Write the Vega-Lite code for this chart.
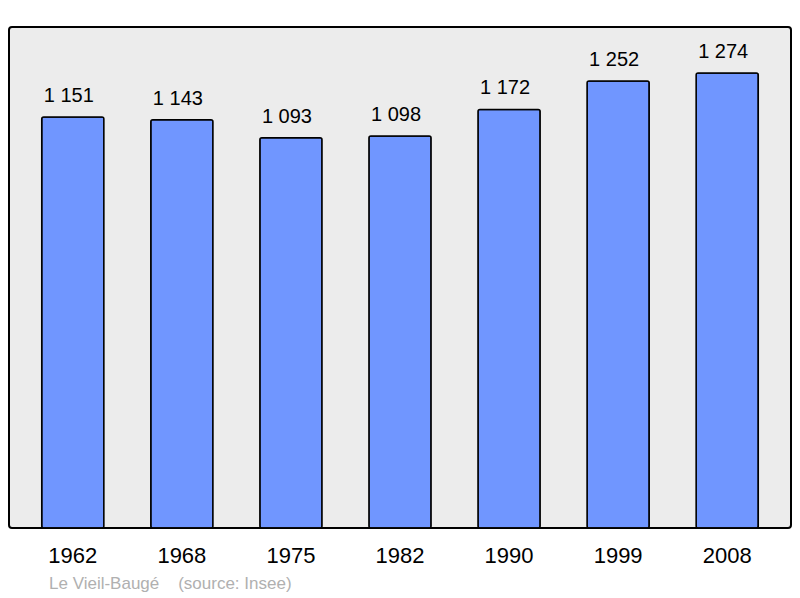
{
  "$schema": "https://vega.github.io/schema/vega-lite/v6.json",
  "width": 782,
  "height": 501,
  "autosize": {"type": "none"},
  "padding": {"left": 9, "top": 27, "right": 9, "bottom": 70},
  "background": "white",
  "config": {
    "font": "Liberation Sans",
    "view": {"fill": "#ececec", "stroke": "black", "strokeWidth": 2, "cornerRadius": 3},
    "locale": {"number": {"decimal": ",", "thousands": " ", "grouping": [3], "currency": ["", " €"]}}
  },
  "title": {
    "text": "Le Vieil-Baugé\u00a0\u00a0\u00a0\u00a0(source: Insee)",
    "orient": "bottom",
    "anchor": "start",
    "dx": 40,
    "offset": 10,
    "color": "#b0b0b0",
    "fontSize": 17,
    "fontWeight": "normal",
    "font": "Liberation Sans"
  },
  "data": {
    "values": [
      {"year": "1962", "population": 1151},
      {"year": "1968", "population": 1143},
      {"year": "1975", "population": 1093},
      {"year": "1982", "population": 1098},
      {"year": "1990", "population": 1172},
      {"year": "1999", "population": 1252},
      {"year": "2008", "population": 1274}
    ]
  },
  "encoding": {
    "x": {
      "field": "year",
      "type": "ordinal",
      "scale": {"paddingInner": 0.43, "paddingOuter": 0.3},
      "axis": {"title": null, "labelAngle": 0, "labelFontSize": 22, "labelColor": "black", "ticks": false, "domain": false, "labelPadding": 17, "labelFont": "Liberation Sans"}
    },
    "y": {
      "field": "population",
      "type": "quantitative",
      "scale": {"domain": [0, 1403], "nice": false},
      "axis": null
    }
  },
  "layer": [
    {"mark": {"type": "bar", "color": "#7096ff", "stroke": "black", "strokeWidth": 1.5, "cornerRadius": 2}},
    {"mark": {"type": "text", "baseline": "alphabetic", "dy": -15, "dx": -4, "fontSize": 20, "color": "black"},
     "encoding": {"text": {"field": "population", "type": "quantitative", "format": ",d"}}}
  ]
}
